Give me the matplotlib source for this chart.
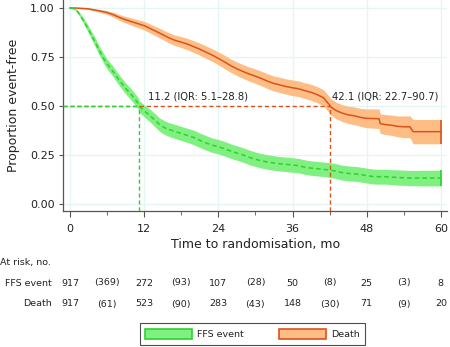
import matplotlib
matplotlib.use("Agg")
import matplotlib.pyplot as plt
from matplotlib.patches import Patch
from matplotlib.ticker import MultipleLocator
import numpy as np

# Kaplan-Meier estimates (months, proportion event-free) and CI half-widths
ffs_t = [0, 0.5, 1, 1.5, 2, 2.5, 3, 3.5, 4, 4.5, 5, 5.5, 6, 6.5, 7, 7.5, 8, 8.5,
         9, 9.5, 10, 10.5, 11, 11.2, 11.5, 12, 12.5, 13, 13.5, 14, 14.5, 15, 15.5,
         16, 17, 18, 19, 20, 21, 22, 23, 24, 25, 26, 27, 28, 29, 30, 31, 32, 33,
         34, 35, 36, 37, 38, 39, 40, 41, 42, 43, 44, 45, 46, 47, 48, 49, 50, 51,
         52, 53, 54, 55, 56, 57, 58, 59, 60]
ffs_s = [1.000, 0.998, 0.990, 0.970, 0.945, 0.918, 0.890, 0.860, 0.830, 0.798,
         0.768, 0.740, 0.715, 0.695, 0.675, 0.652, 0.630, 0.610, 0.590, 0.572,
         0.555, 0.535, 0.515, 0.499, 0.490, 0.475, 0.462, 0.450, 0.435, 0.420,
         0.405, 0.395, 0.386, 0.380, 0.370, 0.360, 0.350, 0.340, 0.325, 0.312,
         0.300, 0.292, 0.282, 0.270, 0.260, 0.250, 0.238, 0.228, 0.220, 0.214,
         0.209, 0.205, 0.202, 0.199, 0.195, 0.188, 0.183, 0.180, 0.177, 0.173,
         0.168, 0.160, 0.156, 0.154, 0.150, 0.145, 0.140, 0.139, 0.139, 0.137,
         0.135, 0.134, 0.132, 0.132, 0.132, 0.132, 0.132, 0.132]
ffs_ci = [0.000, 0.003, 0.006, 0.010, 0.013, 0.016, 0.018, 0.020, 0.022, 0.023,
          0.024, 0.025, 0.025, 0.026, 0.026, 0.027, 0.027, 0.028, 0.028, 0.028,
          0.029, 0.029, 0.030, 0.030, 0.030, 0.030, 0.031, 0.032, 0.033, 0.034,
          0.034, 0.035, 0.035, 0.035, 0.036, 0.036, 0.036, 0.037, 0.037, 0.037,
          0.037, 0.037, 0.037, 0.037, 0.037, 0.037, 0.037, 0.037, 0.037, 0.037,
          0.037, 0.037, 0.037, 0.037, 0.037, 0.037, 0.037, 0.037, 0.037, 0.038,
          0.038, 0.038, 0.038, 0.038, 0.038, 0.038, 0.038, 0.038, 0.038, 0.038,
          0.039, 0.039, 0.039, 0.039, 0.040, 0.040, 0.040, 0.040]

death_t = [0, 1, 2, 3, 4, 5, 6, 7, 8, 9, 10, 11, 12, 13, 14, 15, 16, 17, 18, 19,
           20, 21, 22, 23, 24, 25, 26, 27, 28, 29, 30, 31, 32, 33, 34, 35, 36, 37,
           38, 39, 40, 41, 42, 42.1, 43, 44, 45, 46, 47, 48, 49, 50, 50.2, 51, 52,
           53, 54, 55, 55.5, 56, 57, 58, 59, 60]
death_s = [1.000, 1.000, 0.998, 0.996, 0.990, 0.984, 0.977, 0.966, 0.952, 0.940,
           0.930, 0.920, 0.910, 0.895, 0.880, 0.864, 0.848, 0.835, 0.826, 0.816,
           0.803, 0.790, 0.775, 0.760, 0.743, 0.725, 0.706, 0.690, 0.676, 0.663,
           0.652, 0.640, 0.626, 0.615, 0.607, 0.599, 0.593, 0.588, 0.578, 0.570,
           0.558, 0.542, 0.505, 0.498, 0.478, 0.464, 0.455, 0.450, 0.442, 0.437,
           0.436, 0.435, 0.410, 0.405, 0.402, 0.396, 0.394, 0.394, 0.369, 0.369,
           0.369, 0.369, 0.369, 0.369]
death_ci = [0.000, 0.002, 0.003, 0.004, 0.006, 0.008, 0.010, 0.012, 0.015, 0.017,
            0.019, 0.020, 0.022, 0.023, 0.024, 0.025, 0.026, 0.027, 0.028, 0.029,
            0.030, 0.031, 0.032, 0.032, 0.033, 0.034, 0.034, 0.035, 0.035, 0.036,
            0.037, 0.037, 0.038, 0.038, 0.039, 0.039, 0.040, 0.040, 0.040, 0.041,
            0.041, 0.041, 0.042, 0.042, 0.042, 0.043, 0.044, 0.045, 0.046, 0.048,
            0.049, 0.050, 0.050, 0.051, 0.052, 0.053, 0.055, 0.056, 0.062, 0.062,
            0.062, 0.062, 0.062, 0.062]

ffs_median = 11.2
death_median = 42.1
ffs_label = "11.2 (IQR: 5.1\u201328.8)"
death_label = "42.1 (IQR: 22.7\u201390.7)"

# numbers at risk (events in brackets between time points)
risk_x = [0, 6, 12, 18, 24, 30, 36, 42, 48, 54, 60]
risk_ffs = ["917", "(369)", "272", "(93)", "107", "(28)", "50", "(8)", "25", "(3)", "8"]
risk_death = ["917", "(61)", "523", "(90)", "283", "(43)", "148", "(30)", "71", "(9)", "20"]

green_line = "#2fd12f"
green_band = "#80f080"
orange_line = "#d9531e"
orange_band = "#fdbd84"
grid_col = "#e3f5f5"
text_col = "#222222"

plt.rcParams["font.family"] = "DejaVu Sans"

fig = plt.figure(figsize=(4.5, 3.47), dpi=100)
ax = fig.add_axes([0.1404, 0.3919, 0.853, 0.6081])

def draw_km(t, s, ci, line_col, band_col, ls):
    t = np.asarray(t)
    s = np.asarray(s)
    ci = np.asarray(ci)
    ax.fill_between(t, s - ci, s + ci, color=band_col, lw=0, zorder=2)
    ax.vlines(t[-1], s[-1] - ci[-1], s[-1] + ci[-1], color=line_col, lw=1.2, zorder=3)
    ax.plot(t, s, color=line_col, lw=1.1, ls=ls, zorder=4)

draw_km(death_t, death_s, death_ci, orange_line, orange_band, "-")
draw_km(ffs_t, ffs_s, ffs_ci, green_line, green_band, (0, (3, 2)))

# median survival reference lines
dash = (0, (3, 2))
ax.plot([-1.1, death_median], [0.5, 0.5], color=orange_line, lw=1, ls=dash, zorder=5)
ax.plot([death_median, death_median], [-0.036, 0.5], color=orange_line, lw=1, ls=dash, zorder=5)
ax.plot([-1.1, ffs_median], [0.5, 0.5], color=green_line, lw=1, ls=dash, zorder=6)
ax.plot([ffs_median, ffs_median], [-0.036, 0.5], color=green_line, lw=1, ls=dash, zorder=6)
ax.text(12.6, 0.546, ffs_label, fontsize=7.2, color=text_col, va="center", ha="left", zorder=7)
ax.text(42.45, 0.546, death_label, fontsize=7.2, color=text_col, va="center", ha="left", zorder=7)

ax.set_xlim(-1.1, 61)
ax.set_ylim(-0.036, 1.041)
ax.set_xticks(range(0, 61, 12))
ax.xaxis.set_minor_locator(MultipleLocator(6))
ax.set_yticks([0, 0.25, 0.5, 0.75, 1.0])
ax.set_yticklabels(["0.00", "0.25", "0.50", "0.75", "1.00"])
ax.grid(True, color=grid_col, lw=0.9, zorder=0)
ax.set_axisbelow(True)
for side in ["top", "right"]:
    ax.spines[side].set_visible(False)
for side in ["left", "bottom"]:
    ax.spines[side].set_color("#555555")
    ax.spines[side].set_linewidth(0.9)
ax.tick_params(axis="both", which="both", colors="#555555", labelcolor=text_col, labelsize=8)
ax.tick_params(axis="x", which="major", length=4, pad=5)
ax.tick_params(axis="x", which="minor", length=3)
ax.tick_params(axis="y", length=3, pad=3)
ax.set_xlabel("Time to randomisation, mo", fontsize=9, color=text_col, labelpad=3)
ax.set_ylabel("Proportion event-free", fontsize=9, color=text_col, labelpad=7)

# risk table below the axis
trans = matplotlib.transforms.blended_transform_factory(ax.transData, fig.transFigure)
def fy(px):
    return 1 - px / 347.0

fig.text(0.0, fy(263), "At risk, no.", fontsize=6.8, color=text_col, va="center", ha="left")
fig.text(52 / 450, fy(283), "FFS event", fontsize=6.8, color=text_col, va="center", ha="right")
fig.text(52 / 450, fy(304), "Death", fontsize=6.8, color=text_col, va="center", ha="right")
for x, a, b in zip(risk_x, risk_ffs, risk_death):
    fig.text(x, fy(283), a, transform=trans, fontsize=6.8, color=text_col, va="center", ha="center")
    fig.text(x, fy(304), b, transform=trans, fontsize=6.8, color=text_col, va="center", ha="center")

handles = [Patch(facecolor=green_band, edgecolor=green_line, lw=1.2),
           Patch(facecolor=orange_band, edgecolor=orange_line, lw=1.2)]
leg = fig.legend(handles, ["FFS event", "Death"], loc="center",
                 bbox_to_anchor=(252.5 / 450, fy(334)), ncol=2, fontsize=6.8,
                 frameon=True, fancybox=False, edgecolor="#222222",
                 handlelength=4.9, handleheight=1.2, handletextpad=0.55,
                 columnspacing=3.8, borderpad=0.6, borderaxespad=0)
leg.get_frame().set_linewidth(0.8)
for txt in leg.get_texts():
    txt.set_color(text_col)

fig.savefig("out.png", dpi=100)
